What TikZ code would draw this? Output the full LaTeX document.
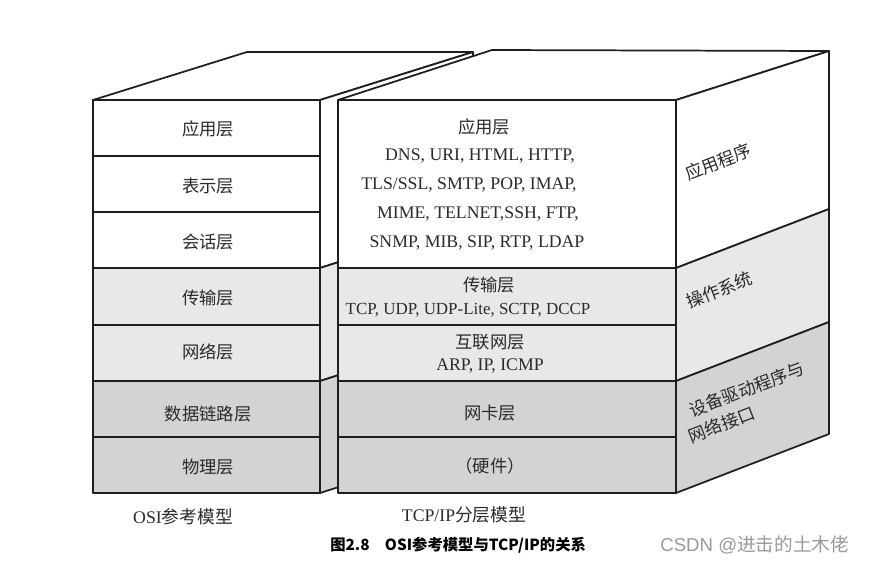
\documentclass[tikz,border=0pt]{standalone}
\usepackage{fontspec}
\setmainfont{Liberation Serif}
\newfontfamily\cjk{Noto Sans CJK SC}
\newfontfamily\wmfont{Liberation Sans}
\definecolor{lg}{HTML}{E8E8E8}
\definecolor{dg}{HTML}{D3D3D3}
\definecolor{edge}{HTML}{1E1E1E}
\definecolor{txt}{HTML}{2A2A2A}
\definecolor{wmc}{HTML}{9A9A9A}
\begin{document}
\begin{tikzpicture}[x=0.75pt,y=-0.75pt,
  face/.style={draw=edge, line width=1.3pt, line join=round},
  lab/.style={font=\cjk\fontsize{13}{15}\selectfont, text=txt, inner sep=0pt},
  en/.style={font=\fontsize{13.3}{16}\selectfont, text=txt, inner sep=0pt},
  side/.style={lab, rotate=21},
  captext/.style={inner sep=0pt, anchor=west},
]
\useasboundingbox (0,0) rectangle (871,564);
% ---------- left block (OSI) ----------
\draw[face, fill=white] (93,100) -- (247,52) -- (473,52) -- (320,100) -- cycle;
\draw[face, fill=white] (320,100) -- (473,52) -- (473,219) -- (320,268) -- cycle;
\draw[face, fill=lg] (320,268) -- (473,219) -- (473,332) -- (320,381) -- cycle;
\draw[face, fill=dg] (320,381) -- (473,332) -- (473,444) -- (320,493) -- cycle;
\draw[face, fill=white] (93,100) rectangle (320,156);
\draw[face, fill=white] (93,156) rectangle (320,212);
\draw[face, fill=white] (93,212) rectangle (320,268);
\draw[face, fill=lg] (93,268) rectangle (320,325);
\draw[face, fill=lg] (93,325) rectangle (320,381);
\draw[face, fill=dg] (93,381) rectangle (320,437);
\draw[face, fill=dg] (93,437) rectangle (320,493);
\node[lab] (o7) at (208,129) {应用层};
\node[lab] (o6) at (208,186) {表示层};
\node[lab] (o5) at (208,242) {会话层};
\node[lab] (o4) at (208,298) {传输层};
\node[lab] (o3) at (208,352) {网络层};
\node[lab] (o2) at (208,414) {数据链路层};
\node[lab] (o1) at (208,467) {物理层};
% ---------- right block (TCP/IP) ----------
\draw[face, fill=white] (338,100) -- (492,50) -- (829,51) -- (676,100) -- cycle;
\draw[face, fill=white] (676,100) -- (829,51) -- (829,209) -- (676,268) -- cycle;
\draw[face, fill=lg] (676,268) -- (829,209) -- (829,322) -- (676,381) -- cycle;
\draw[face, fill=dg] (676,381) -- (829,322) -- (829,434) -- (676,493) -- cycle;
\draw[face, fill=white] (338,100) rectangle (676,268);
\draw[face, fill=lg] (338,268) rectangle (676,325);
\draw[face, fill=lg] (338,325) rectangle (676,381);
\draw[face, fill=dg] (338,381) rectangle (676,437);
\draw[face, fill=dg] (338,437) rectangle (676,493);
\node[lab] (t4) at (484,127) {应用层};
\node[en] (t4a) at (480,156) {DNS, URI, HTML, HTTP,};
\node[en] (t4b) at (469,185) {TLS/SSL, SMTP, POP, IMAP,};
\node[en] (t4c) at (478,214) {MIME, TELNET,SSH, FTP,};
\node[en] (t4d) at (477,243) {SNMP, MIB, SIP, RTP, LDAP};
\node[lab] (t3) at (489,285) {传输层};
\node[en, font=\fontsize{12.7}{15}\selectfont] (t3a) at (468,310) {TCP, UDP, UDP-Lite, SCTP, DCCP};
\node[lab] (t2) at (490,342) {互联网层};
\node[en] (t2a) at (490,366) {ARP, IP, ICMP};
\node[lab] (t1) at (490,413) {网卡层};
\node[lab] (t0) at (490,466) {（硬件）};
% side labels
\node[side] (s3) at (718,162) {应用程序};
\node[side] (s2) at (719,290) {操作系统};
\node[side, anchor=west] (s1a) at (690,411) {设备驱动程序与};
\node[side, anchor=west] (s1b) at (689,437) {网络接口};
% ---------- captions ----------
\node[en] (osi) at (183,517) {OSI{\cjk 参考模型}};
\node[en] (tcpip) at (464,515) {TCP/IP{\cjk 分层模型}};
\node[captext, font=\cjk\bfseries\fontsize{11.5}{14}\selectfont, text=black] (fig) at (330,545) {图2.8\hspace{1em}OSI参考模型与TCP/IP的关系};
\node[captext, font=\wmfont\fontsize{14}{16}\selectfont, text=wmc] (wm) at (660,545) {CSDN @{\cjk 进击的土木佬}};
\end{tikzpicture}
\end{document}
